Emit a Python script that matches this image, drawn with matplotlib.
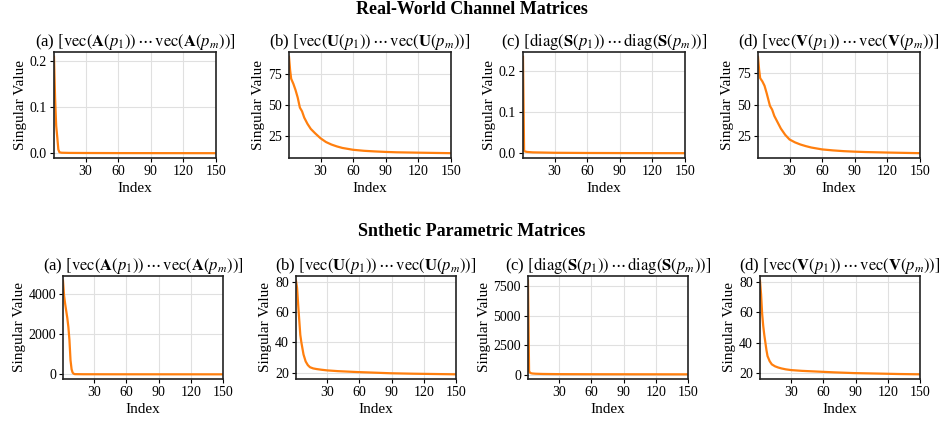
import numpy as np
import matplotlib
matplotlib.use("Agg")
import matplotlib.pyplot as plt

plt.rcParams['font.family'] = ['Liberation Serif', 'DejaVu Serif']
plt.rcParams['mathtext.fontset'] = 'stix'

# --- real-world channel matrices (index, singular value) ---
rw_a_idx = [1, 2, 3, 4, 5, 6, 8, 15, 30, 60, 100, 150]
rw_a_val = [0.21, 0.12, 0.06, 0.035, 0.008, 0.002, 0.001, 0.0006, 0.0004, 0.0002, 0.0001, 0.0]

rw_u_idx = [1, 2, 3, 5, 7, 9, 11, 13, 15, 18, 21, 25, 30, 35, 40, 45, 50, 60, 70, 80, 90, 100, 120, 150]
rw_u_val = [88.5, 78, 71, 67, 62, 56, 48, 45, 40, 35, 31, 27.5, 23.5, 20.5, 18.5, 17, 15.8, 14.3, 13.5, 13.0, 12.6, 12.3, 12.0, 11.6]

rw_s_idx = [1, 2, 3, 5, 10, 30, 60, 100, 150]
rw_s_val = [0.235, 0.006, 0.004, 0.003, 0.002, 0.001, 0.0005, 0.0002, 0.0]

rw_v_idx = [1, 2, 3, 5, 7, 9, 12, 14, 16, 19, 22, 26, 30, 35, 40, 45, 50, 60, 70, 80, 90, 100, 120, 150]
rw_v_val = [88, 78, 71, 68.5, 65, 59, 49, 46, 41, 36, 31, 26, 22.3, 20, 18.3, 17, 15.9, 14.4, 13.6, 13.0, 12.6, 12.3, 11.9, 11.4]

# --- synthetic parametric matrices ---
sp_a_idx = [1, 2, 3, 4, 5, 6, 7, 8, 9, 10, 11, 12, 20, 50, 100, 150]
sp_a_val = [4650, 3900, 3500, 3150, 2800, 2350, 1700, 700, 250, 80, 30, 10, 5, 3, 2, 1]

sp_u_idx = [1, 2, 3, 4, 5, 6, 7, 8, 10, 12, 14, 17, 20, 25, 30, 40, 58, 70, 89, 110, 130, 150]
sp_u_val = [80.8, 76, 65, 55, 45, 40, 36, 32, 27.4, 25, 23.6, 22.8, 22.4, 21.9, 21.5, 21.0, 20.4, 20.1, 19.6, 19.3, 19.1, 18.9]

sp_s_idx = [1, 2, 3, 4, 5, 8, 15, 30, 60, 100, 150]
sp_s_val = [7950, 300, 150, 120, 100, 80, 60, 45, 38, 34, 30]

sp_v_idx = [1, 2, 3, 4, 5, 6, 7, 8, 10, 12, 15, 18, 21, 25, 30, 40, 58, 70, 89, 110, 130, 150]
sp_v_val = [81, 72, 59, 51, 45, 40, 35, 31, 27.6, 25.5, 24.2, 23.4, 22.8, 22.2, 21.7, 21.2, 20.6, 20.2, 19.7, 19.4, 19.1, 18.9]

x_ticks = [30, 60, 90, 120, 150]
y_ticks = [
    [[0, 0.1, 0.2], [25, 50, 75], [0, 0.1, 0.2], [25, 50, 75]],
    [[0, 2000, 4000], [20, 40, 60, 80], [0, 2500, 5000, 7500], [20, 40, 60, 80]],
]

titles = [
    r'(a) $[\mathrm{vec}(\mathbf{A}(p_1))\,\cdots\,\mathrm{vec}(\mathbf{A}(p_m))]$',
    r'(b) $[\mathrm{vec}(\mathbf{U}(p_1))\,\cdots\,\mathrm{vec}(\mathbf{U}(p_m))]$',
    r'(c) $[\mathrm{diag}(\mathbf{S}(p_1))\,\cdots\,\mathrm{diag}(\mathbf{S}(p_m))]$',
    r'(d) $[\mathrm{vec}(\mathbf{V}(p_1))\,\cdots\,\mathrm{vec}(\mathbf{V}(p_m))]$',
]

rows = [
    [(rw_a_idx, rw_a_val), (rw_u_idx, rw_u_val), (rw_s_idx, rw_s_val), (rw_v_idx, rw_v_val)],
    [(sp_a_idx, sp_a_val), (sp_u_idx, sp_u_val), (sp_s_idx, sp_s_val), (sp_v_idx, sp_v_val)],
]
row_titles = ['Real-World Channel Matrices', 'Snthetic Parametric Matrices']

W, H = 945, 425
fig = plt.figure(figsize=(W / 100, H / 100), dpi=100)

# axes boxes in pixels
lefts = [[54, 289, 523, 758], [63, 296, 528, 760]]
rights = [[216, 451, 685, 920], [223, 456, 688, 920]]
tops = [52, 276]
bottoms = [158, 379]

for r in range(2):
    for c in range(4):
        l, rr = lefts[r][c], rights[r][c]
        ax = fig.add_axes([l / W, 1 - bottoms[r] / H, (rr - l) / W, (bottoms[r] - tops[r]) / H])
        idx, val = rows[r][c]
        ax.plot(idx, val, color='#ff7f0e', lw=1.6)
        ax.set_xlim(1, 150)
        ax.set_xticks(x_ticks)
        ax.set_yticks(y_ticks[r][c])
        ax.grid(True, color='#e0e0e0', lw=0.8)
        ax.set_axisbelow(True)
        for s in ax.spines.values():
            s.set_color('#222222')
            s.set_linewidth(1.2)
        ax.tick_params(labelsize=10, length=3, width=0.8, pad=2)
        ax.set_xlabel('Index', fontsize=11, labelpad=3)
        ax.set_ylabel('Singular Value', fontsize=11, labelpad=2)
        ax.set_title(titles[c], fontsize=12, pad=4)

fig.text(472 / W, 1 - 9 / H, row_titles[0], ha='center', va='center', fontsize=13, fontweight='bold')
fig.text(472 / W, 1 - 231 / H, row_titles[1], ha='center', va='center', fontsize=13, fontweight='bold')

fig.savefig('out.png', dpi=100)
